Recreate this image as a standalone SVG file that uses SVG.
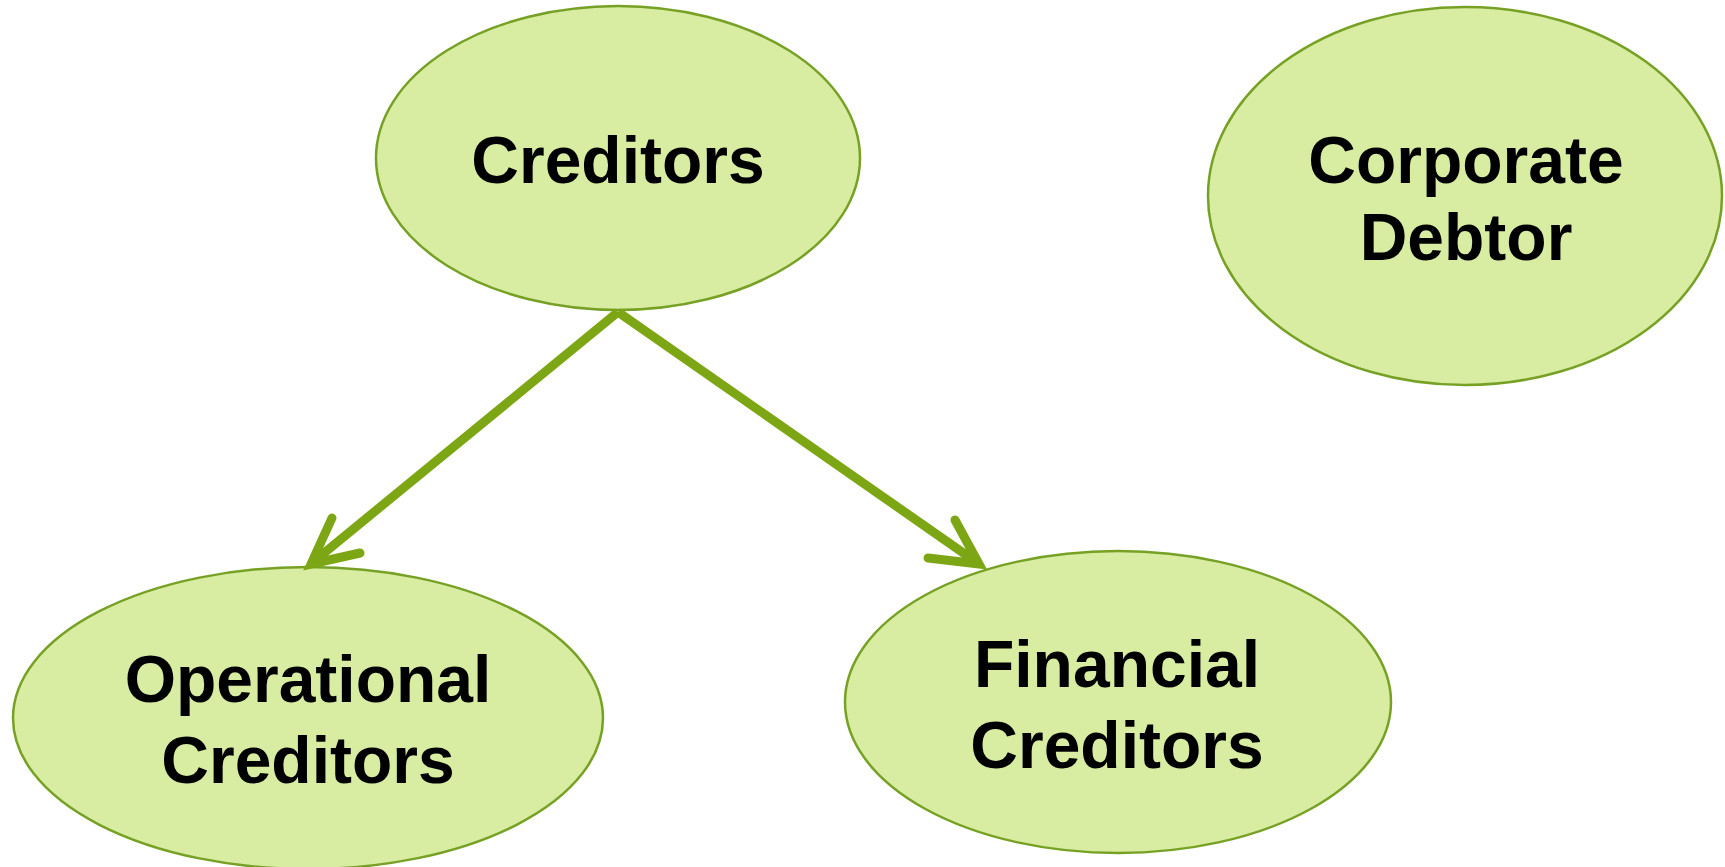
<svg xmlns="http://www.w3.org/2000/svg" width="1725" height="867" viewBox="0 0 1725 867">
  <style>
    .node { fill: #D8EDA2; stroke: #76A125; stroke-width: 2.5; }
    .label { font-family: "Liberation Sans", Arial, sans-serif; font-weight: bold; font-size: 66px; fill: #000; text-anchor: middle; }
    .edge { fill: none; stroke: #7DA614; stroke-width: 9; }
    .head { fill: none; stroke: #7DA614; stroke-width: 9; stroke-linecap: round; stroke-linejoin: miter; stroke-miterlimit: 10; }
  </style>
  <rect width="1725" height="867" fill="#FFFFFF"/>

  <g id="node-creditors">
    <ellipse class="node" cx="618" cy="158" rx="242" ry="152"/>
    <text class="label" x="618" y="183">Creditors</text>
  </g>

  <g id="node-corporate-debtor">
    <ellipse class="node" cx="1465" cy="196" rx="257" ry="189"/>
    <text class="label" x="1466" y="183">Corporate</text>
    <text class="label" x="1466" y="260">Debtor</text>
  </g>

  <g id="node-operational">
    <ellipse class="node" cx="308" cy="718" rx="295" ry="151"/>
    <text class="label" x="308" y="702">Operational</text>
    <text class="label" x="308" y="783">Creditors</text>
  </g>

  <g id="node-financial">
    <ellipse class="node" cx="1118" cy="702" rx="273" ry="151"/>
    <text class="label" x="1117" y="687">Financial</text>
    <text class="label" x="1117" y="768">Creditors</text>
  </g>

  <g id="connectors">
    <line class="edge" x1="618" y1="312" x2="318" y2="558"/>
    <path class="head" d="M332 518 L311 564 L360 553"/>
    <line class="edge" x1="618" y1="312" x2="972" y2="559"/>
    <path class="head" d="M955 520 L979 564 L928 558"/>
  </g>
</svg>
